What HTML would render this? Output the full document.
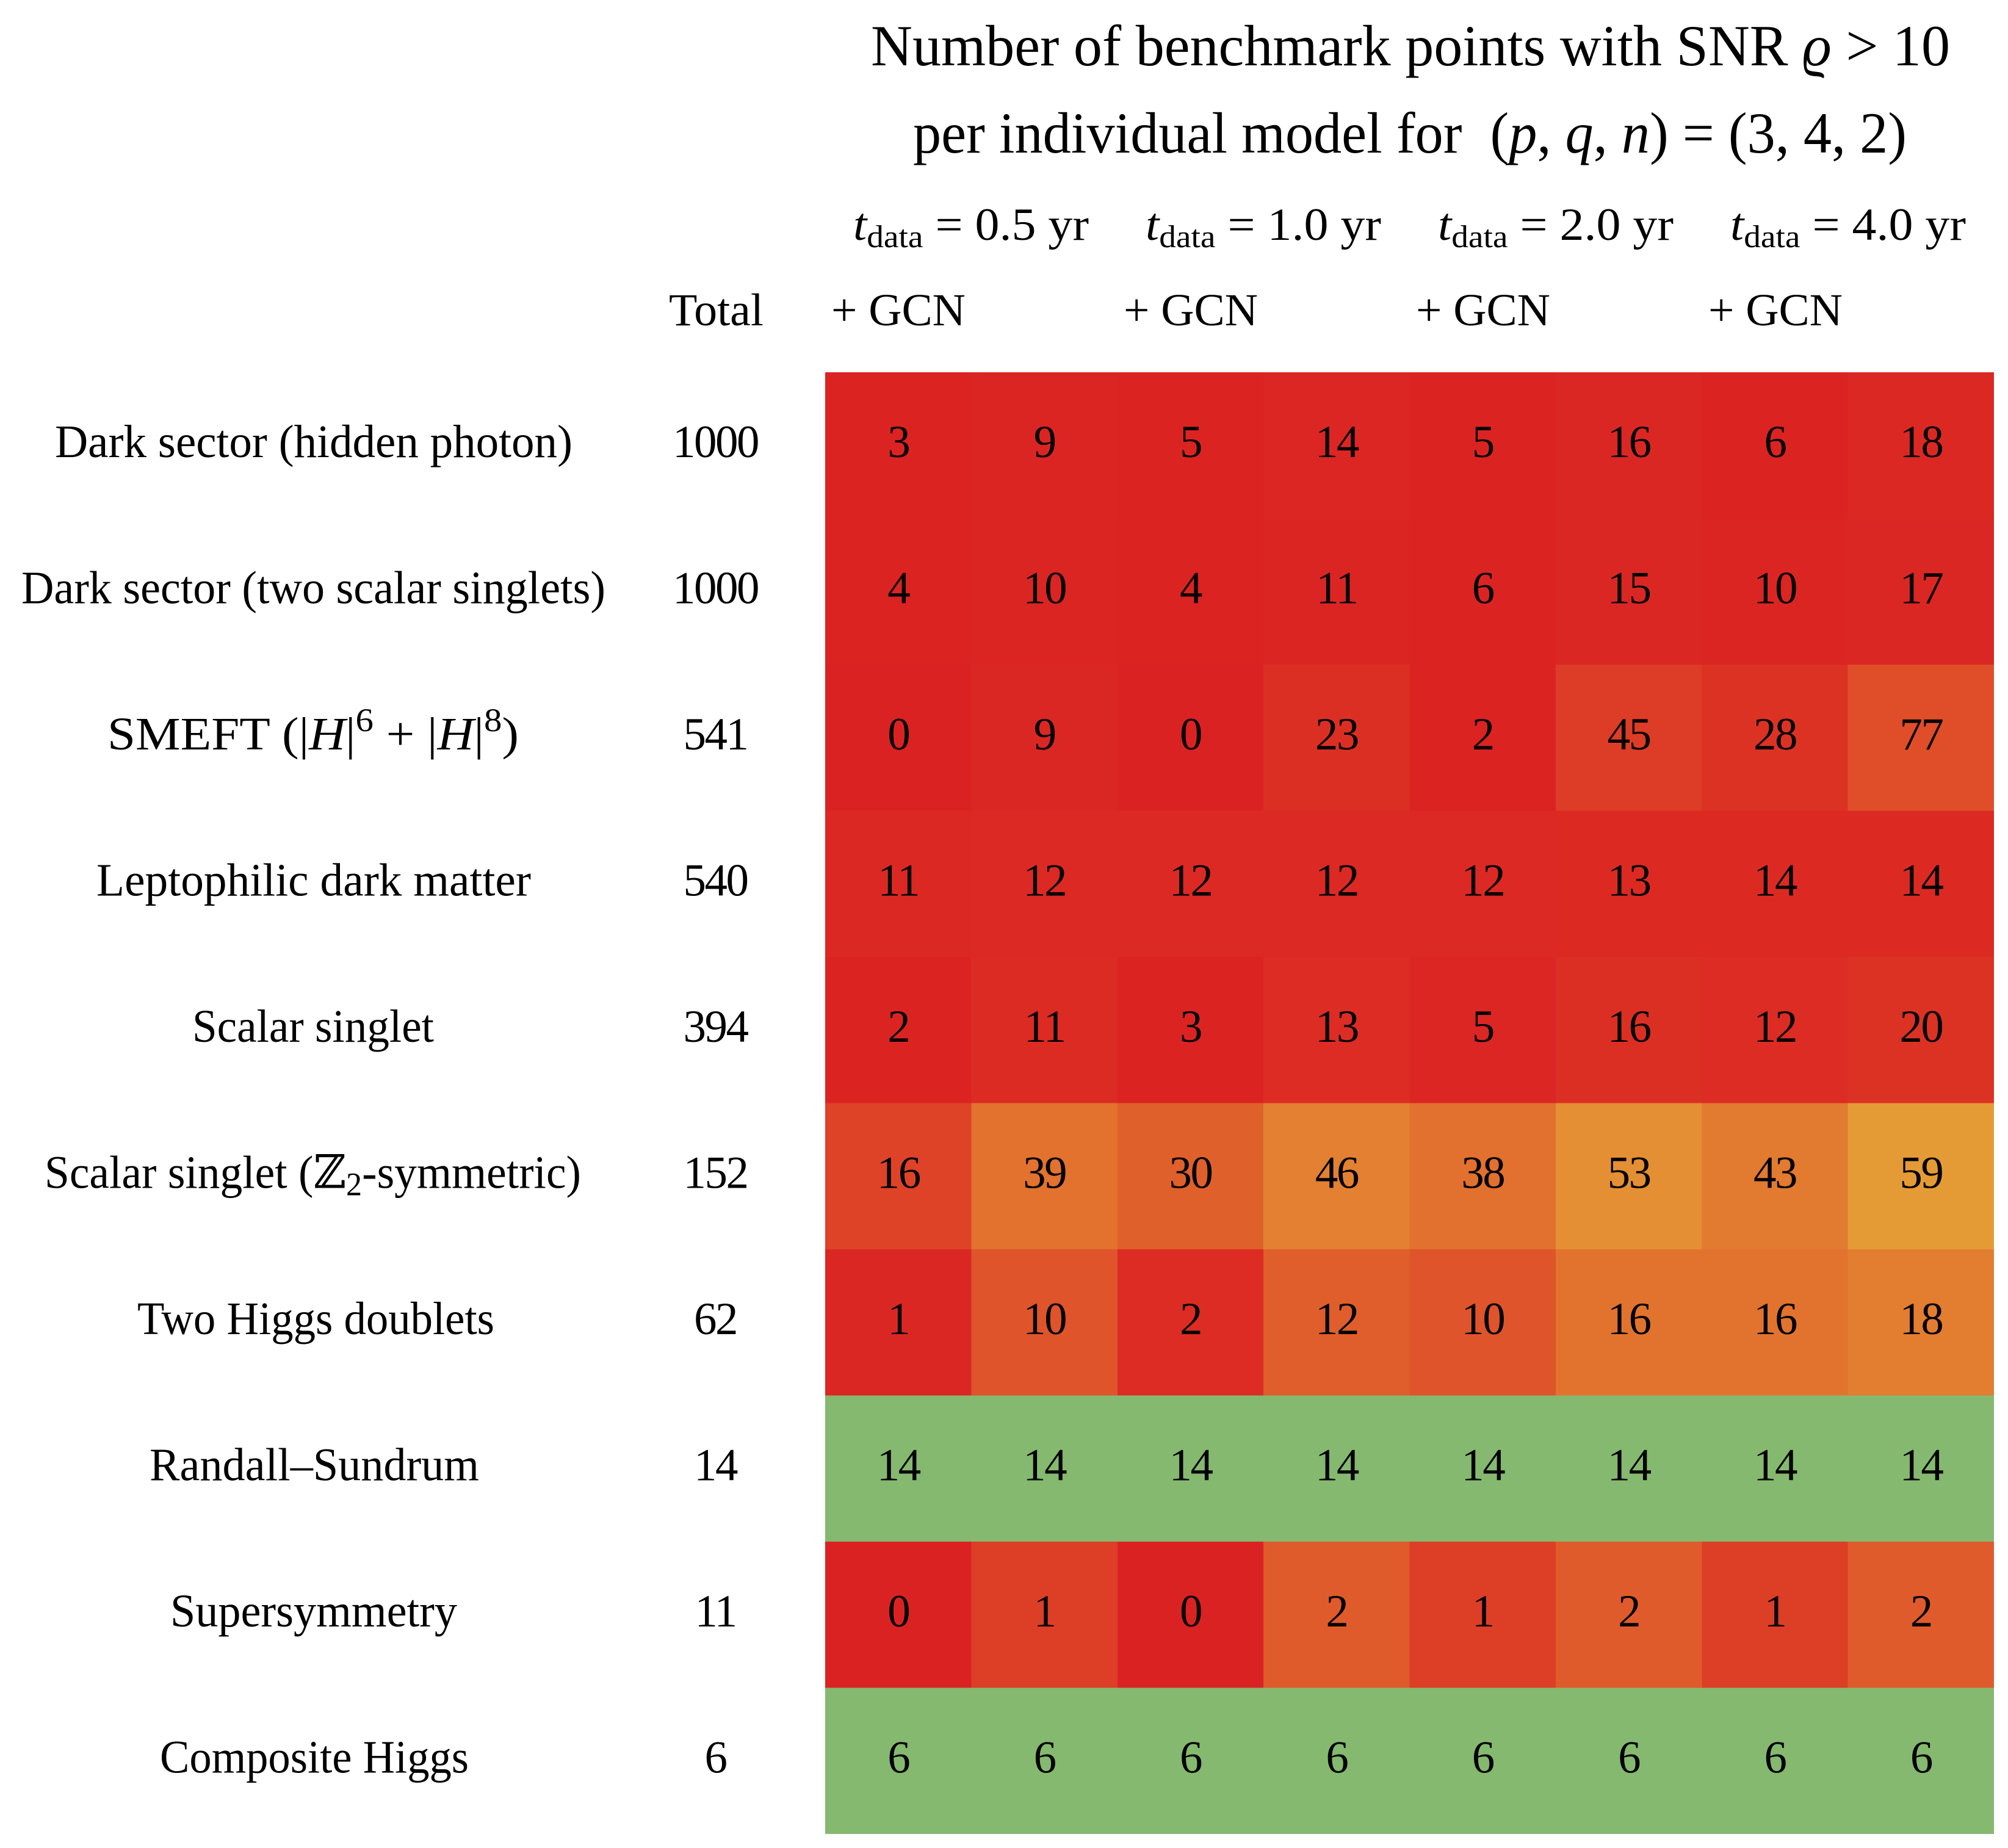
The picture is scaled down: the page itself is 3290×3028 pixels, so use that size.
<!DOCTYPE html>
<html lang="en">
<head>
<meta charset="utf-8">
<title>Number of benchmark points with SNR per individual model</title>
<style>
  html, body { margin: 0; padding: 0; background: #fff; }
  svg { display: block; }
  text { font-family: "Liberation Serif", "DejaVu Serif", serif; fill: #000; }
  .title { font-size: 95px; }
  .head { font-size: 75px; }
  .label { font-size: 76px; }
  .cell-text { font-size: 75px; letter-spacing: -2.5px; }
  .i { font-style: italic; }
</style>
</head>
<body>
<svg id="chart" xmlns="http://www.w3.org/2000/svg" width="3290" height="3028" viewBox="0 0 3290 3028">
  <rect x="0" y="0" width="3290" height="3028" fill="#fff"/>

  <g>
    <text class="title" x="1427" y="107" textLength="1768" lengthAdjust="spacingAndGlyphs">Number of benchmark points with SNR <tspan class="i">ϱ</tspan> &gt; 10</text>
    <text class="title" x="1496" y="250" textLength="1628" lengthAdjust="spacingAndGlyphs">per individual model for&#160; (<tspan class="i">p</tspan>, <tspan class="i">q</tspan>, <tspan class="i">n</tspan>) = (3, 4, 2)</text>
  </g>

  <g>
    <text class="head" x="1398" y="393" textLength="386" lengthAdjust="spacingAndGlyphs"><tspan class="i">t</tspan><tspan font-size="52" dy="12">data</tspan><tspan dy="-12"> = 0.5 yr</tspan></text>
    <text class="head" x="1877" y="393" textLength="386" lengthAdjust="spacingAndGlyphs"><tspan class="i">t</tspan><tspan font-size="52" dy="12">data</tspan><tspan dy="-12"> = 1.0 yr</tspan></text>
    <text class="head" x="2356" y="393" textLength="386" lengthAdjust="spacingAndGlyphs"><tspan class="i">t</tspan><tspan font-size="52" dy="12">data</tspan><tspan dy="-12"> = 2.0 yr</tspan></text>
    <text class="head" x="2835" y="393" textLength="386" lengthAdjust="spacingAndGlyphs"><tspan class="i">t</tspan><tspan font-size="52" dy="12">data</tspan><tspan dy="-12"> = 4.0 yr</tspan></text>
    <text class="head" x="1096" y="533" textLength="155" lengthAdjust="spacingAndGlyphs">Total</text>
    <text class="head" x="1362" y="533" textLength="220" lengthAdjust="spacingAndGlyphs">+ GCN</text>
    <text class="head" x="1841" y="533" textLength="220" lengthAdjust="spacingAndGlyphs">+ GCN</text>
    <text class="head" x="2320" y="533" textLength="220" lengthAdjust="spacingAndGlyphs">+ GCN</text>
    <text class="head" x="2799" y="533" textLength="220" lengthAdjust="spacingAndGlyphs">+ GCN</text>
  </g>

  <g>
    <text class="label" x="90" y="748.75" textLength="848" lengthAdjust="spacingAndGlyphs">Dark sector (hidden photon)</text>
    <text class="label" x="35" y="988.25" textLength="957" lengthAdjust="spacingAndGlyphs">Dark sector (two scalar singlets)</text>
    <text class="label" x="176" y="1227.75" textLength="674" lengthAdjust="spacingAndGlyphs">SMEFT (|<tspan class="i">H</tspan>|<tspan font-size="54" dy="-30">6</tspan><tspan dy="30"> + |</tspan><tspan class="i">H</tspan>|<tspan font-size="54" dy="-30">8</tspan><tspan dy="30">)</tspan></text>
    <text class="label" x="158" y="1467.25" textLength="712" lengthAdjust="spacingAndGlyphs">Leptophilic dark matter</text>
    <text class="label" x="315" y="1706.75" textLength="396" lengthAdjust="spacingAndGlyphs">Scalar singlet</text>
    <text class="label" x="73" y="1946.25" textLength="879" lengthAdjust="spacingAndGlyphs">Scalar singlet (ℤ<tspan font-size="54" dy="12">2</tspan><tspan dy="-12">-symmetric)</tspan></text>
    <text class="label" x="225" y="2185.75" textLength="585" lengthAdjust="spacingAndGlyphs">Two Higgs doublets</text>
    <text class="label" x="245" y="2425.25" textLength="540" lengthAdjust="spacingAndGlyphs">Randall–Sundrum</text>
    <text class="label" x="279" y="2664.75" textLength="470" lengthAdjust="spacingAndGlyphs">Supersymmetry</text>
    <text class="label" x="262" y="2904.25" textLength="506" lengthAdjust="spacingAndGlyphs">Composite Higgs</text>
  </g>

  <g id="totals"></g>
  <g id="cells"></g>
  <g id="cell-labels"></g>
</svg>

<script>
const totals = [1000, 1000, 541, 540, 394, 152, 62, 14, 11, 6];

const darkSectorHiddenPhoton = [3, 9, 5, 14, 5, 16, 6, 18];
const darkSectorTwoSinglets = [4, 10, 4, 11, 6, 15, 10, 17];
const smeft = [0, 9, 0, 23, 2, 45, 28, 77];
const leptophilicDarkMatter = [11, 12, 12, 12, 12, 13, 14, 14];
const scalarSinglet = [2, 11, 3, 13, 5, 16, 12, 20];
const scalarSingletZ2 = [16, 39, 30, 46, 38, 53, 43, 59];
const twoHiggsDoublets = [1, 10, 2, 12, 10, 16, 16, 18];
const randallSundrum = [14, 14, 14, 14, 14, 14, 14, 14];
const supersymmetry = [0, 1, 0, 2, 1, 2, 1, 2];
const compositeHiggs = [6, 6, 6, 6, 6, 6, 6, 6];

const rows = [
  darkSectorHiddenPhoton, darkSectorTwoSinglets, smeft, leptophilicDarkMatter,
  scalarSinglet, scalarSingletZ2, twoHiggsDoublets, randallSundrum,
  supersymmetry, compositeHiggs
];

const SVG_NS = 'http://www.w3.org/2000/svg';
const plotLeft = 1352, plotRight = 3267, plotTop = 610, plotBottom = 3005;
const columnCount = rows[0].length;
const rowCount = rows.length;
const columnWidth = (plotRight - plotLeft) / columnCount;
const rowHeight = (plotBottom - plotTop) / rowCount;

function xScale(column) { return plotLeft + column * columnWidth; }
function yScale(row) { return plotTop + row * rowHeight; }

function colorScale(fraction) {
  const f = Math.max(0, Math.min(1, fraction));
  const low = [219, 34, 34], mid = [232, 190, 58], high = [133, 185, 111];
  const from = f < 0.5 ? low : mid;
  const to = f < 0.5 ? mid : high;
  const t = f < 0.5 ? f / 0.5 : (f - 0.5) / 0.5;
  const mix = [0, 1, 2].map(function (k) { return Math.round(from[k] + (to[k] - from[k]) * t); });
  return 'rgb(' + mix.join(',') + ')';
}

const cellGroup = document.getElementById('cells');
const labelGroup = document.getElementById('cell-labels');
const totalsGroup = document.getElementById('totals');

rows.forEach(function (values, r) {
  const baseline = yScale(r) + rowHeight / 2 + 19;

  const totalText = document.createElementNS(SVG_NS, 'text');
  
  
  totalText.setAttribute('class', 'cell-text');
  totalText.setAttribute('x', 1172);
  totalText.setAttribute('y', baseline);
  totalText.setAttribute('text-anchor', 'middle');
  totalText.textContent = totals[r];
  totalsGroup.appendChild(totalText);

  values.forEach(function (value, c) {
    const rect = document.createElementNS(SVG_NS, 'rect');
    
    
    rect.setAttribute('x', xScale(c));
    rect.setAttribute('y', yScale(r));
    rect.setAttribute('width', columnWidth);
    rect.setAttribute('height', rowHeight);
    rect.setAttribute('shape-rendering', 'crispEdges');
    rect.setAttribute('fill', colorScale(value / totals[r]));
    cellGroup.appendChild(rect);

    const text = document.createElementNS(SVG_NS, 'text');
    
    
    text.setAttribute('class', 'cell-text');
    text.setAttribute('x', xScale(c) + columnWidth / 2);
    text.setAttribute('y', baseline);
    text.setAttribute('text-anchor', 'middle');
    text.textContent = value;
    labelGroup.appendChild(text);
  });
});
</script>
</body>
</html>
